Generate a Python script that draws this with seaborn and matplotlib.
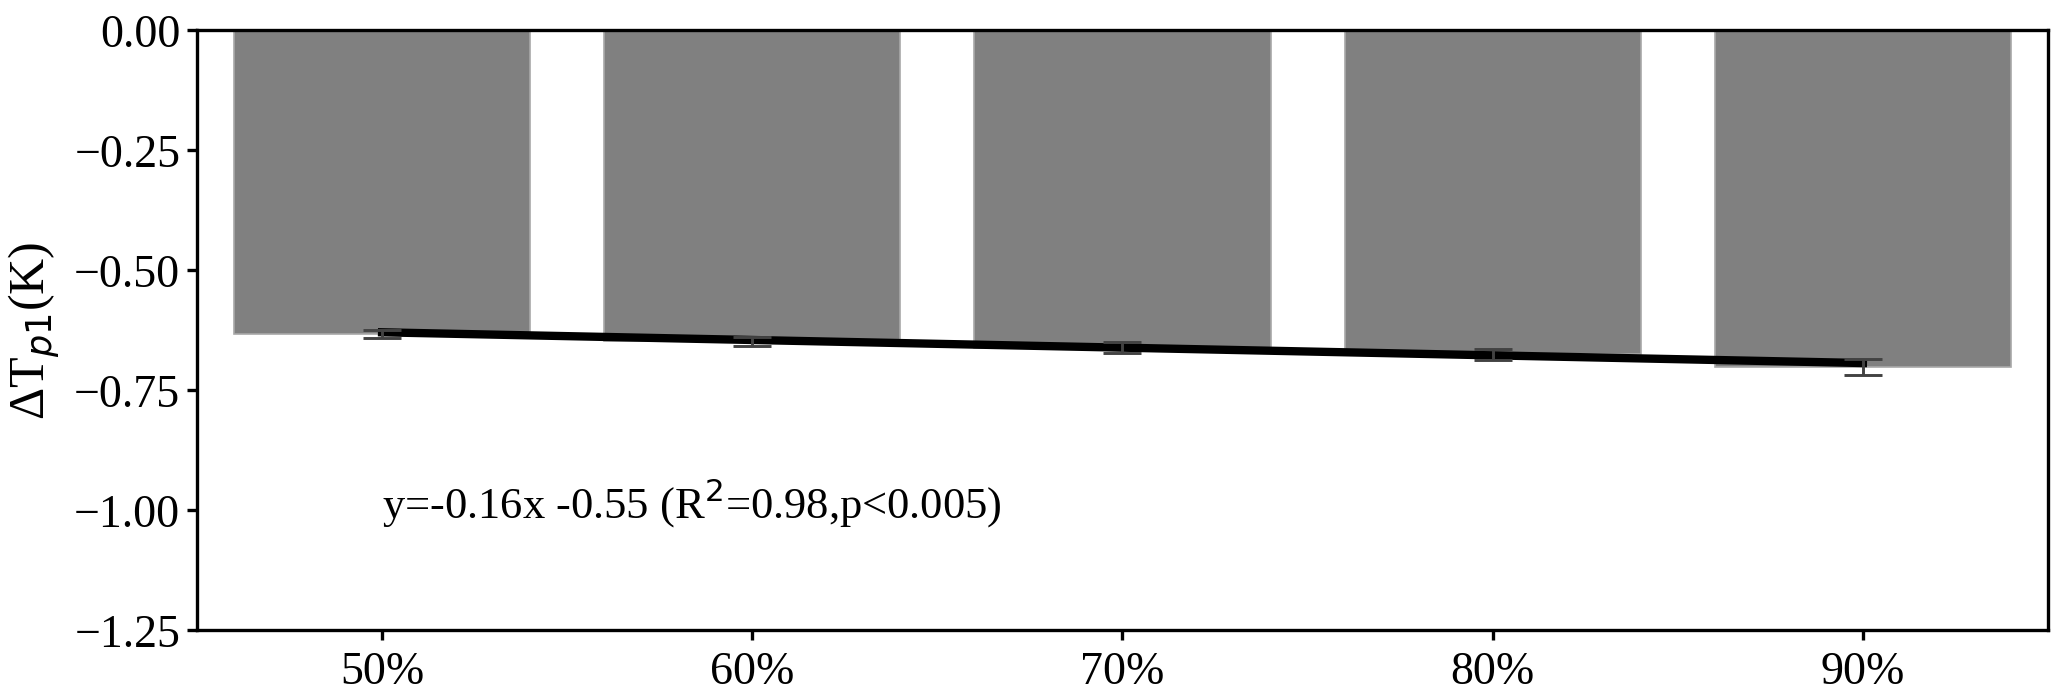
import numpy as np
import pandas as pd
import matplotlib
matplotlib.use("Agg")
import matplotlib.pyplot as plt
import seaborn as sns

# ---- data ----
categories = ["50%", "60%", "70%", "80%", "90%"]
fractions = [0.5, 0.6, 0.7, 0.8, 0.9]
values = [-0.633, -0.649, -0.662, -0.676, -0.702]
errors = [0.008, 0.010, 0.011, 0.012, 0.016]
fit_slope = -0.16
fit_intercept = -0.55
y_ticks = [0.0, -0.25, -0.50, -0.75, -1.00, -1.25]
annotation = "y=-0.16x -0.55 (R$^2$=0.98,p<0.005)"

plt.rcParams["font.family"] = ["Liberation Serif", "DejaVu Serif"]
plt.rcParams["mathtext.fontset"] = "dejavusans"
plt.rcParams["font.size"] = 11
plt.rcParams["xtick.major.size"] = 2.5
plt.rcParams["ytick.major.size"] = 2.5
plt.rcParams["xtick.major.pad"] = 2.5
plt.rcParams["ytick.major.pad"] = 1.5

df = pd.DataFrame({"cat": categories, "val": values, "err": errors, "frac": fractions})

fig = plt.figure(figsize=(2067 / 300, 701 / 300), dpi=300)
ax = fig.add_axes([0.0953, 0.0999, 0.8955, 0.956 - 0.0999])

sns.barplot(data=df, x="cat", y="val", color="#808080", saturation=1,
            width=0.8, errorbar=None, edgecolor="#a8a8a8", linewidth=0.4, ax=ax)

# regression line from the fitted equation
xpos = np.arange(len(categories))
fit_y = fit_slope * df["frac"].to_numpy() + fit_intercept
sns.lineplot(x=xpos, y=fit_y, color="black", linewidth=2.0, ax=ax, zorder=3)

ax.errorbar(xpos, df["val"], yerr=df["err"], fmt="none", ecolor="0.26",
            elinewidth=0.7, capsize=4.6, capthick=0.7, zorder=4)

ax.text(0, -1.015, annotation, ha="left", va="baseline", fontsize=10.7)

ax.set_ylim(-1.25, 0.0)
ax.set_xlim(-0.5, len(categories) - 0.5)
ax.set_yticks(y_ticks)
ax.set_yticklabels([f"{t:.2f}".replace("-", "\u2212") for t in y_ticks])
ax.tick_params(axis="both", labelsize=11)
ax.set_xlabel("")
ax.set_ylabel("\u0394T$_{p1}$(K)", fontsize=12, labelpad=3)
for s in ax.spines.values():
    s.set_linewidth(0.8)
    s.set_visible(True)

fig.savefig("out.png", dpi=300)
